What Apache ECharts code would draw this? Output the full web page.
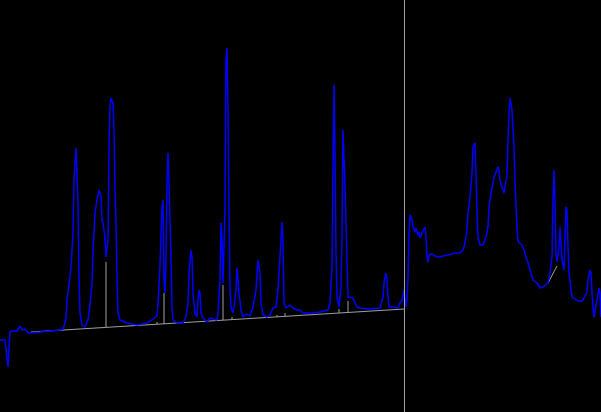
<!DOCTYPE html>
<html>
<head>
<meta charset="utf-8">
<script src="https://cdn.jsdelivr.net/npm/echarts@6/dist/echarts.min.js"></script>
<style>
html,body{margin:0;padding:0;background:#000;}
#chart{width:601px;height:412px;}
</style>
</head>
<body>
<div id="chart"></div>
<script>
// Signal trace: [time, intensity]
var signal = [
[0,72],[5,72],[6,74],[7,73],[8,45],[9,65],[10,80],[13,81],[17,81],[18,82],[20,86],[21,85],[22,82],[23,83],[25,83],[27,81],[28,79],[30,79],
[40,80],[50,81],[60,82],[63,83],[65,89],[66,94],[67,112],[68,119],[71,145],[73,179],[74,232],[76,264],[77,265],[78,212],[79,132],[80,99],
[82,87],[85,85],[88,92],[90,107],[92,129],[93,159],[95,199],[97,212],[99,222],[101,215],[102,192],[103,189],[105,175],[106,155],[108,172],
[109,265],[110,305],[111,314],[113,309],[114,282],[115,222],[116,189],[117,132],[118,99],[120,92],[127,89],[137,87],[147,89],[153,93],
[157,96],[158,107],[160,147],[162,205],[163,212],[164,132],[165,119],[166,155],[167,229],[168,259],[169,229],[171,155],[172,105],[173,92],
[177,89],[183,89],[186,95],[188,109],[189,139],[191,162],[192,155],[193,119],[195,99],[197,95],[198,112],[199,122],[200,119],[201,99],
[203,94],[207,90],[208,92],[210,94],[213,93],[217,92],[218,99],[220,132],[221,189],[222,172],[223,129],[225,205],[226,352],[227,364],
[228,302],[229,205],[230,122],[231,105],[233,99],[234,105],[236,122],[237,144],[238,142],[239,119],[241,102],[243,95],[247,98],[250,96],
[253,105],[256,122],[258,152],[260,139],[261,109],[263,97],[267,95],[268,97],[270,97],[273,104],[276,105],[277,103],[278,122],[280,155],
[282,190],[283,172],[284,109],[286,104],[288,105],[290,107],[293,104],[297,102],[300,102],[303,99],[313,99],[320,100],[328,102],[330,109],
[332,145],[333,242],[334,327],[335,262],[336,159],[337,115],[339,105],[341,125],[342,175],[343,282],[344,282],[345,225],[347,152],[348,115],
[350,115],[353,114],[355,109],[357,105],[360,104],[370,103],[380,104],[383,115],[384,129],[386,139],[387,132],[388,115],[389,105],[393,105],
[395,105],[398,104],[400,109],[402,112],[403,117],[404,122],[406,105],[407,112],[408,135],[409,179],[410,197],[412,192],[413,185],[415,180],
[416,184],[418,177],[419,180],[420,174],[422,179],[423,180],[425,185],[426,175],[427,155],[428,150],[429,157],[432,158],[435,156],[438,155],
[443,156],[448,157],[450,158],[455,159],[460,159],[463,162],[465,169],[467,182],[468,199],[470,215],[472,239],[473,265],[475,269],[476,239],
[477,199],[478,175],[480,167],[482,165],[483,167],[486,175],[488,185],[489,205],[491,219],[493,229],[494,235],[496,240],[498,245],[499,242],
[500,232],[502,225],[503,222],[504,219],[505,217],[507,237],[508,272],[509,299],[510,314],[511,312],[512,302],[513,282],[514,265],[515,232],
[516,205],[517,185],[518,172],[519,169],[522,167],[524,162],[526,155],[528,149],[530,142],[532,135],[533,132],[537,129],[540,124],[543,125],
[545,126],[548,129],[550,139],[552,155],[553,212],[554,242],[555,209],[556,159],[557,150],[559,165],[560,185],[561,185],[562,152],[564,142],
[565,175],[566,205],[567,202],[568,165],[569,139],[571,122],[572,115],[575,113],[578,111],[582,111],[584,114],[587,120],[588,132],[590,142],
[591,139],[592,119],[593,105],[594,95],[596,95],[597,112],[599,124],[600,119],[601,95]
];
// Integration baselines
var baselineMain = [[31,80],[404,103]];
var baselineRight = [[548,129],[557,146]];
// Peak drop lines
var dropX    = [106,157,164,223,232,277,285,339,348];
var dropBase = [85, 88, 88, 92, 92, 95, 96, 99, 100];
var dropTop  = [150,90, 119,127,95, 97, 99, 103,111];
// Marker position
var markerX = 404;

var gray = '#a0a0a0';
var series = [];
series.push({type:'line', data:baselineMain, symbol:'none', silent:true, lineStyle:{color:gray,width:1}});
series.push({type:'line', data:baselineRight, symbol:'none', silent:true, lineStyle:{color:gray,width:1}});
dropX.forEach(function(x,i){
  series.push({type:'line', data:[[x,dropBase[i]],[x,dropTop[i]]], symbol:'none', silent:true, lineStyle:{color:gray,width:1}});
});
series.push({
  type:'line', data:signal, symbol:'none', silent:true,
  lineStyle:{color:'#0000ff',width:1.5},
  markLine:{silent:true, symbol:['none','none'], label:{show:false},
    lineStyle:{color:gray,width:1,type:'solid'}, data:[{xAxis:markerX}]}
});

var chart = echarts.init(document.getElementById('chart'));
chart.setOption({
  animation:false,
  backgroundColor:'#000',
  grid:{left:0,right:0,top:0,bottom:0},
  xAxis:{type:'value',min:0,max:601,show:false},
  yAxis:{type:'value',min:0,max:412,show:false},
  series:series
});
</script>
</body>
</html>
